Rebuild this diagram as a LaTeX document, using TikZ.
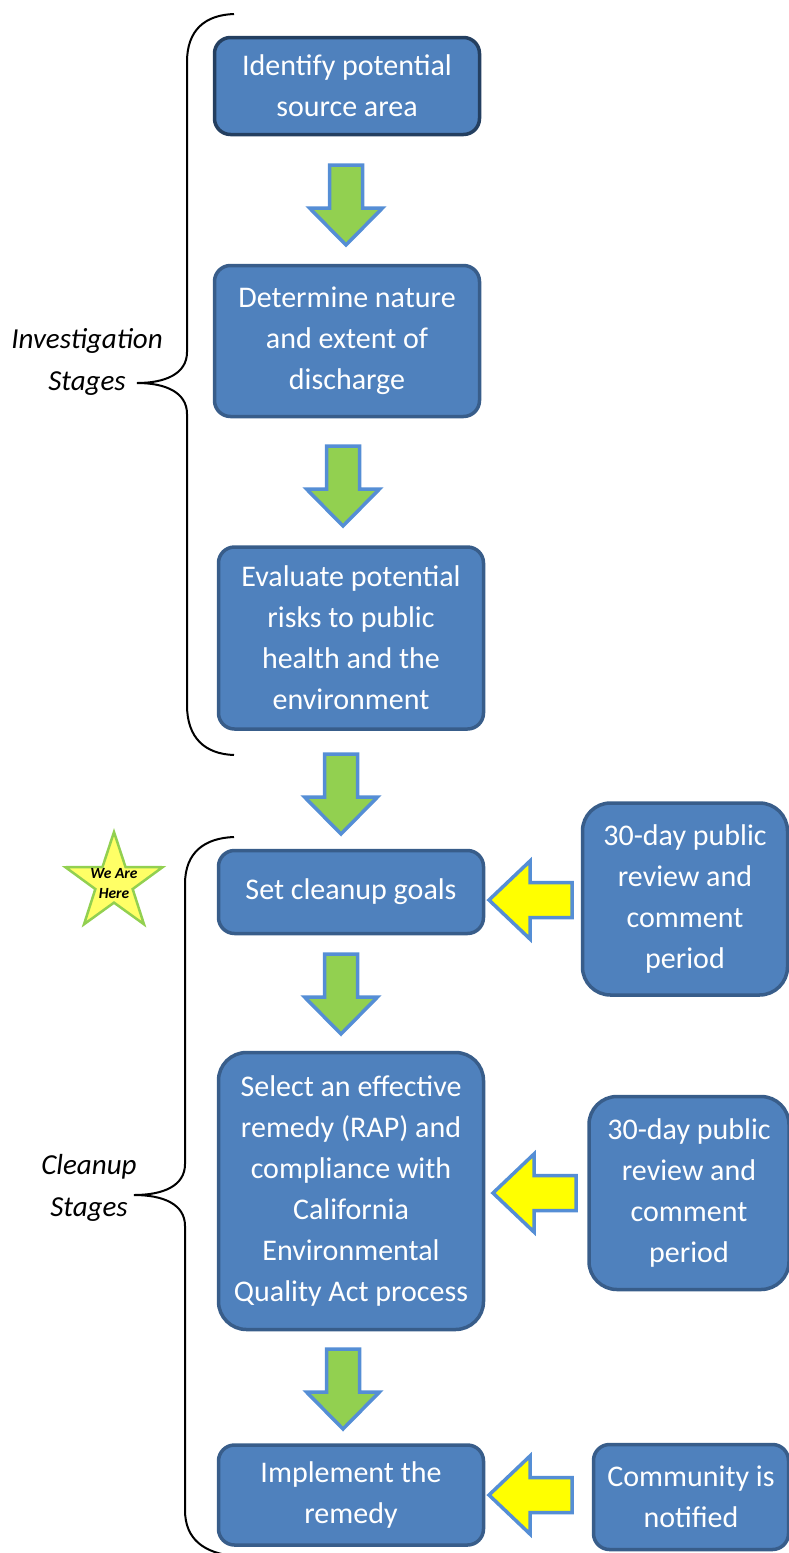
\documentclass[tikz,border=0pt]{standalone}
\usepackage{fontspec}
\setmainfont{Carlito}
\usetikzlibrary{shapes.geometric}
\definecolor{boxfill}{HTML}{4F81BD}
\definecolor{boxline}{HTML}{385D8A}
\definecolor{boxdark}{HTML}{243F60}
\definecolor{arrline}{HTML}{558ED5}
\definecolor{arrgreen}{HTML}{92D050}
\definecolor{arryellow}{HTML}{FFFF00}
\definecolor{starfill}{HTML}{FFFF66}
\definecolor{starline}{HTML}{92D050}
\tikzset{
  stagebox/.style={draw=boxline, fill=boxfill, line width=3.5pt, rounded corners=16pt,
    text=white, align=center, inner sep=0pt,
    font=\fontsize{30}{41}\selectfont},
  greenarrow/.style={draw=arrline, fill=arrgreen, line width=3.5pt, line join=miter},
  yellowarrow/.style={draw=arrline, fill=arryellow, line width=3.5pt, line join=miter},
  bracket/.style={draw=black, line width=2pt},
  stagelabel/.style={font=\itshape\fontsize{29}{42}\selectfont, align=center, inner sep=0pt}
}
\newcommand\greendown[2]{%
  \draw[greenarrow] (#1-16.5,#2) -- (#1+16.5,#2) -- (#1+16.5,#2+43) -- (#1+36.5,#2+43)
    -- (#1,#2+80) -- (#1-36.5,#2+43) -- (#1-16.5,#2+43) -- cycle;}
\newcommand\yellowleft[2]{%
  \draw[yellowarrow] (#1,#2) -- (#1+41,#2-39) -- (#1+41,#2-17.5) -- (#1+83,#2-17.5)
    -- (#1+83,#2+17.5) -- (#1+41,#2+17.5) -- (#1+41,#2+39) -- cycle;}
\begin{document}
\begin{tikzpicture}[x=1pt,y=-1pt]
\useasboundingbox (0,0) rectangle (788,1553);
% braces
\draw[bracket] (234,14) .. controls (205,15) and (187,30) .. (187,62) -- (187,352)
  .. controls (187,374) and (165,383) .. (137,383)
  .. controls (165,383) and (187,392) .. (187,414) -- (187,705)
  .. controls (187,738) and (205,754) .. (234,755);
\draw[bracket] (234,837) .. controls (205,838) and (185,852) .. (185,884) -- (185,1164)
  .. controls (185,1186) and (163,1195) .. (134,1195)
  .. controls (163,1195) and (185,1204) .. (185,1226) -- (185,1510)
  .. controls (185,1540) and (205,1553) .. (234,1556);
\node[stagelabel] (inv) at (87,362) {Investigation\\Stages};
\node[stagelabel] (cln) at (89,1188) {Cleanup\\Stages};
% boxes
\node[stagebox, draw=boxdark, minimum width=265pt, minimum height=97pt] (b1) at (347,86) {Identify potential\\source area};
\node[stagebox, minimum width=265pt, minimum height=151pt] (b2) at (347,341) {Determine nature\\and extent of\\discharge};
\node[stagebox, minimum width=265pt, minimum height=182pt] (b3) at (351,638) {Evaluate potential\\risks to public\\health and the\\environment};
\node[stagebox, minimum width=265pt, minimum height=83pt] (b4) at (351,892) {Set cleanup goals};
\node[stagebox, rounded corners=28pt, minimum width=205pt, minimum height=192pt] (r1) at (685,899) {30-day public\\review and\\comment\\period};
\node[stagebox, rounded corners=28pt, minimum width=265pt, minimum height=277pt] (b5) at (351,1191) {Select an effective\\remedy (RAP) and\\compliance with\\California\\Environmental\\Quality Act process};
\node[stagebox, rounded corners=28pt, minimum width=200pt, minimum height=193pt] (r2) at (689,1193) {30-day public\\review and\\comment\\period};
\node[stagebox, minimum width=265pt, minimum height=100pt] (b6) at (351,1495) {Implement the\\remedy};
\node[stagebox, minimum width=195pt, minimum height=105pt] (r3) at (691,1497) {Community is\\notified};
% green arrows
\greendown{346}{165}
\greendown{343}{446}
\greendown{341}{754}
\greendown{341}{954}
\greendown{343}{1349}
% yellow arrows
\yellowleft{489}{900}
\yellowleft{493}{1193}
\yellowleft{489}{1495}
% star
\node[star, star points=5, star point ratio=2.6, minimum size=102pt, inner sep=0pt,
  draw=starline, fill=starfill, line width=2.5pt] (star) at (114,883) {};
\node[font=\bfseries\itshape\fontsize{15.5}{20}\selectfont, align=center, inner sep=0pt] (here) at (114,884) {We Are\\Here};
\end{tikzpicture}
\end{document}
